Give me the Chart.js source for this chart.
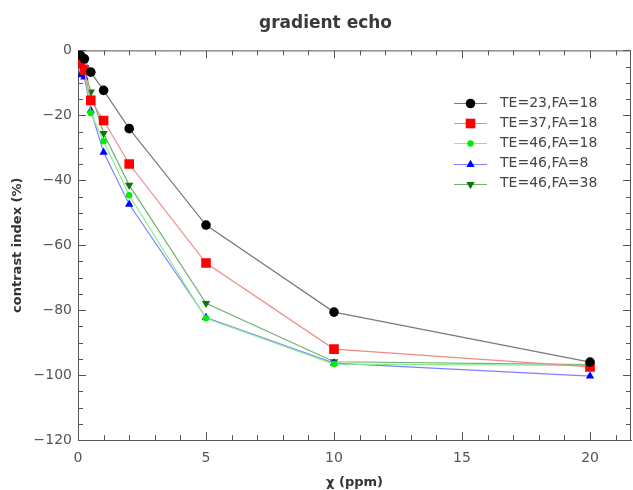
<!DOCTYPE html>
<html>
<head>
<meta charset="utf-8">
<script src="https://cdn.jsdelivr.net/npm/chart.js@4.4.0/dist/chart.umd.min.js"></script>
<style>
html, body { margin: 0; padding: 0; background: #fff; }
</style>
</head>
<body>
<canvas id="chart" width="633" height="490"></canvas>
<script>
// chi values (ppm) and contrast index (%) per sequence
var chi = [0.1, 0.25, 0.5, 1, 2, 5, 10, 20];
var te23fa18 = [-1.5, -2.6, -6.7, -12.3, -24.1, -53.8, -80.6, -96];
var te37fa18 = [-3.5, -6, -15.4, -21.6, -35, -65.5, -92, -97.5];
var te46fa18 = [-3.6, -5.5, -19.3, -28, -44.6, -82.5, -96.6, -97];
var te46fa8 = [-7.5, -8.2, -18.5, -31.4, -47.4, -82.3, -96.3, -100.3];
var te46fa38 = [-4.6, -5.5, -12.8, -25.6, -41.5, -77.9, -95.9, -96.8];
var seriesNames = ["TE=23,FA=18", "TE=37,FA=18", "TE=46,FA=18", "TE=46,FA=8", "TE=46,FA=38"];
var xTicks = [0, 5, 10, 15, 20];

var FONT = "'DejaVu Sans', sans-serif";
var AXIS = "#555";

function points(ys) {
	return ys.map(function (y, i) { return {x: chi[i], y: y}; });
}

function series(i, ys, color, line, style, radius, rotation) {
	return {
		label: seriesNames[i],
		data: points(ys),
		borderColor: line,
		borderWidth: 1.2,
		backgroundColor: color,
		pointBackgroundColor: color,
		pointBorderColor: color,
		pointBorderWidth: 0,
		pointStyle: style,
		pointRadius: radius,
		pointRotation: rotation || 0,
		tension: 0
	};
}

var datasets = [
	series(0, te23fa18, "#000000", "#7a7a7a", "circle", 4.8),
	series(1, te37fa18, "#ff0000", "#f08a8a", "rect", 6.8),
	series(2, te46fa18, "#00ee00", "#88ee88", "circle", 3.2),
	series(3, te46fa8, "#0000ff", "#8080ff", "triangle", 4.8),
	series(4, te46fa38, "#0a780a", "#70b070", "triangle", 4.8, 180)
];

function drawMarker(ctx, ds, x, y) {
	ctx.save();
	ctx.fillStyle = ds.pointBackgroundColor;
	ctx.strokeStyle = ds.pointBorderColor;
	if (Chart.helpers && Chart.helpers.drawPoint) {
		Chart.helpers.drawPoint(ctx, {
			pointStyle: ds.pointStyle,
			rotation: ds.pointRotation,
			radius: ds.pointRadius,
			borderWidth: 0
		}, x, y);
	} else {
		ctx.beginPath();
		ctx.arc(x, y, ds.pointRadius, 0, Math.PI * 2);
		ctx.fill();
	}
	ctx.restore();
}

// frame on top/right plus inward major/minor ticks on all sides
var frameTicks = {
	id: "frameTicks",
	beforeDatasetsDraw: function (chart) {
		var ctx = chart.ctx, a = chart.chartArea,
			xs = chart.scales.x, ys = chart.scales.y, v, px, len;
		ctx.save();
		ctx.strokeStyle = AXIS;
		ctx.lineWidth = 1;
		ctx.beginPath();
		ctx.moveTo(a.left, a.top + 0.5);
		ctx.lineTo(a.right, a.top + 0.5);
		ctx.moveTo(a.right - 0.5, a.top);
		ctx.lineTo(a.right - 0.5, a.bottom);
		for (v = 0; v <= xs.max; v += 1) {
			px = Math.round(xs.getPixelForValue(v)) + 0.5;
			len = v % 5 === 0 ? 8 : 5;
			ctx.moveTo(px, a.bottom);
			ctx.lineTo(px, a.bottom - len);
			ctx.moveTo(px, a.top);
			ctx.lineTo(px, a.top + len);
		}
		for (v = 0; v >= ys.min; v -= 5) {
			px = Math.round(ys.getPixelForValue(v)) + 0.5;
			len = v % 20 === 0 ? 8 : 5;
			ctx.moveTo(a.left, px);
			ctx.lineTo(a.left + len, px);
			ctx.moveTo(a.right, px);
			ctx.lineTo(a.right - len, px);
		}
		ctx.stroke();
		ctx.restore();
	}
};

// legend with line + marker samples, inside the plot at the upper right
var lineLegend = {
	id: "lineLegend",
	afterDraw: function (chart) {
		var ctx = chart.ctx, x0 = 454, x1 = 487, tx = 500, y0 = 103, dy = 20.2;
		ctx.save();
		ctx.font = "14px " + FONT;
		ctx.textBaseline = "middle";
		ctx.textAlign = "left";
		chart.data.datasets.forEach(function (ds, i) {
			var y = y0 + i * dy;
			ctx.strokeStyle = ds.borderColor;
			ctx.lineWidth = 1.2;
			ctx.beginPath();
			ctx.moveTo(x0, Math.round(y) + 0.5);
			ctx.lineTo(x1, Math.round(y) + 0.5);
			ctx.stroke();
			drawMarker(ctx, ds, (x0 + x1) / 2, Math.round(y) + 0.5);
			ctx.fillStyle = "#444";
			ctx.fillText(ds.label, tx, y);
		});
		ctx.restore();
	}
};

new Chart(document.getElementById("chart"), {
	type: "line",
	data: {datasets: datasets},
	plugins: [frameTicks, lineLegend],
	options: {
		responsive: false,
		animation: false,
		layout: {autoPadding: false, padding: {left: 20, right: 2, top: 0, bottom: 0}},
		plugins: {
			legend: {display: false},
			tooltip: {enabled: false},
			title: {
				display: true,
				text: "gradient echo",
				color: "#3a3a3a",
				font: {family: FONT, size: 17, weight: "bold"},
				padding: {top: 13, bottom: 17}
			}
		},
		scales: {
			x: {
				type: "linear",
				min: 0,
				max: 21.6,
				afterFit: function (s) {
					s.height = 50;
					s.paddingLeft = 0;
					s.paddingRight = 0;
				},
				afterBuildTicks: function (s) {
					s.ticks = xTicks.map(function (v) { return {value: v}; });
				},
				grid: {display: false, drawTicks: false},
				border: {display: true, color: AXIS, width: 1},
				ticks: {
					color: "#555",
					padding: 10,
					maxRotation: 0,
					font: {family: FONT, size: 14}
				},
				title: {
					display: true,
					text: "\u03c7 (ppm)",
					color: "#333",
					font: {family: FONT, size: 13, weight: "bold"},
					padding: {top: 0, bottom: 0}
				}
			},
			y: {
				type: "linear",
				min: -120,
				max: 0,
				afterFit: function (s) { s.width = 58; },
				grid: {display: false, drawTicks: false},
				border: {display: true, color: AXIS, width: 1},
				ticks: {
					stepSize: 20,
					color: "#555",
					padding: 6,
					font: {family: FONT, size: 14},
					callback: function (v) { return v < 0 ? "\u2212" + Math.abs(v) : String(v); }
				},
				title: {
					display: true,
					text: "contrast index (%)",
					color: "#333",
					font: {family: FONT, size: 13, weight: "bold"},
					padding: {top: -10, bottom: 0}
				}
			}
		}
	}
});
</script>
</body>
</html>
